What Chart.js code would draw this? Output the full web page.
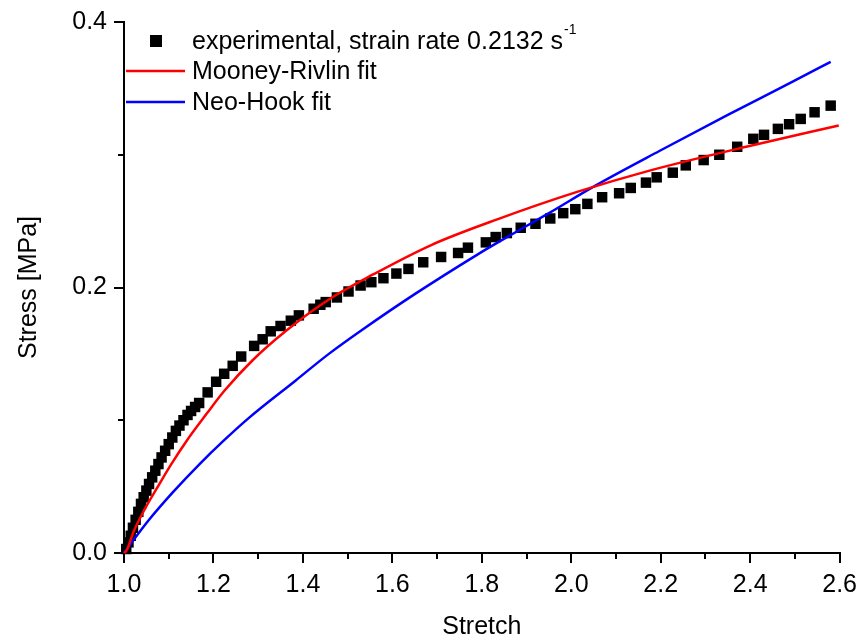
<!DOCTYPE html>
<html>
<head>
<meta charset="utf-8">
<script src="https://cdn.jsdelivr.net/npm/chart.js@4.4.1/dist/chart.umd.min.js"></script>
<style>
  html, body { margin: 0; padding: 0; background: #fff; }
  #wrap { width: 864px; height: 642px; }
</style>
</head>
<body>
<div id="wrap"><canvas id="stressChart" width="864" height="642"></canvas></div>
<script>
// Experimental stress-stretch points
const expStretch = [
  1.005, 1.010, 1.015, 1.020, 1.026, 1.032, 1.038, 1.044, 1.050, 1.056,
  1.063, 1.070, 1.077, 1.084, 1.092, 1.100, 1.108, 1.116, 1.124, 1.133,
  1.142, 1.150, 1.159, 1.168, 1.187, 1.206, 1.224, 1.243, 1.262, 1.291,
  1.310, 1.328, 1.350, 1.373, 1.391, 1.424, 1.439, 1.451, 1.476, 1.502,
  1.529, 1.553, 1.580, 1.609, 1.636, 1.669, 1.709, 1.747, 1.769, 1.809,
  1.831, 1.856, 1.887, 1.920, 1.953, 1.982, 2.009, 2.036, 2.069, 2.107,
  2.133, 2.167, 2.191, 2.227, 2.256, 2.296, 2.331, 2.371, 2.407, 2.431,
  2.462, 2.487, 2.513, 2.544, 2.580
];
const expStress = [
  0.003, 0.008, 0.013, 0.019, 0.025, 0.031, 0.037, 0.042, 0.047, 0.052,
  0.057, 0.062, 0.067, 0.072, 0.077, 0.082, 0.087, 0.092, 0.096, 0.100,
  0.104, 0.107, 0.110, 0.113, 0.121, 0.129, 0.135, 0.141, 0.148, 0.156,
  0.161, 0.167, 0.171, 0.175, 0.179, 0.184, 0.187, 0.189, 0.1925, 0.197,
  0.2015, 0.204, 0.207, 0.2105, 0.214, 0.219, 0.223, 0.226, 0.230, 0.234,
  0.238, 0.241, 0.245, 0.248, 0.252, 0.256, 0.259, 0.263, 0.268, 0.271,
  0.275, 0.279, 0.283, 0.2865, 0.292, 0.296, 0.300, 0.306, 0.312, 0.315,
  0.3195, 0.323, 0.327, 0.332, 0.337
];

// Mooney-Rivlin fit curve
const mrStretch = [1.000, 1.006, 1.022, 1.048, 1.074, 1.104, 1.141, 1.185, 1.224, 1.287,
  1.361, 1.458, 1.558, 1.687, 1.836, 2.013, 2.169, 2.391, 2.598];
const mrStress = [0.000, 0.002, 0.0165, 0.034, 0.049, 0.066, 0.085, 0.105, 0.122, 0.145,
  0.167, 0.191, 0.210, 0.232, 0.2515, 0.272, 0.2875, 0.306, 0.322];

// Neo-Hook fit curve
const nhStretch = [1.000, 1.013, 1.056, 1.110, 1.169, 1.224, 1.280, 1.384, 1.458, 1.532,
  1.650, 1.791, 1.836, 1.950, 2.050, 2.198, 2.350, 2.495, 2.580];
const nhStress = [0.000, 0.006, 0.025, 0.046, 0.067, 0.085, 0.102, 0.130, 0.150, 0.168,
  0.195, 0.225, 0.234, 0.256, 0.276, 0.303, 0.330, 0.355, 0.370];

const xMinorTicks = [1.1, 1.3, 1.5, 1.7, 1.9, 2.1, 2.3, 2.5];
const yMinorTicks = [0.1, 0.3];

const FONT = "'Liberation Sans', Arial, sans-serif";

function toPoints(xs, ys) {
  return xs.map((x, i) => ({ x: x, y: ys[i] }));
}

// Minor tick marks (Chart.js only draws one tick length)
const minorTicks = {
  id: 'minorTicks',
  afterDraw(chart) {
    const { ctx, chartArea, scales } = chart;
    ctx.save();
    ctx.strokeStyle = '#000';
    ctx.lineWidth = 2;
    ctx.beginPath();
    xMinorTicks.forEach(v => {
      const px = Math.round(scales.x.getPixelForValue(v));
      ctx.moveTo(px, chartArea.bottom);
      ctx.lineTo(px, chartArea.bottom + 6);
    });
    yMinorTicks.forEach(v => {
      const py = Math.round(scales.y.getPixelForValue(v));
      ctx.moveTo(chartArea.left - 6, py);
      ctx.lineTo(chartArea.left, py);
    });
    ctx.stroke();
    ctx.restore();
  }
};

// Legend drawn inside the plot, top-left
const insideLegend = {
  id: 'insideLegend',
  afterDraw(chart) {
    const ctx = chart.ctx;
    ctx.save();
    ctx.fillStyle = '#000';
    ctx.fillRect(150, 35, 12, 12);

    ctx.lineWidth = 2.5;
    ctx.strokeStyle = '#ff0000';
    ctx.beginPath(); ctx.moveTo(126, 71); ctx.lineTo(185, 71); ctx.stroke();
    ctx.strokeStyle = '#0000ff';
    ctx.beginPath(); ctx.moveTo(126, 102); ctx.lineTo(185, 102); ctx.stroke();

    ctx.font = '25px ' + FONT;
    ctx.textBaseline = 'middle';
    ctx.textAlign = 'left';
    const expLabel = 'experimental, strain rate 0.2132 s';
    ctx.fillText(expLabel, 192, 42);
    const w = ctx.measureText(expLabel).width;
    ctx.font = '14px ' + FONT;
    ctx.fillText('-1', 192 + w + 1, 30);
    ctx.font = '25px ' + FONT;
    ctx.fillText('Mooney-Rivlin fit', 192, 72);
    ctx.fillText('Neo-Hook fit', 192, 103);
    ctx.restore();
  }
};

new Chart(document.getElementById('stressChart').getContext('2d'), {
  type: 'scatter',
  data: {
    datasets: [
      {
        label: 'experimental, strain rate 0.2132 s-1',
        data: toPoints(expStretch, expStress),
        pointStyle: 'rect',
        pointRadius: 7.4,
        pointBackgroundColor: '#000',
        pointBorderWidth: 0,
        showLine: false,
        clip: false,
        order: 3
      },
      {
        label: 'Mooney-Rivlin fit',
        data: toPoints(mrStretch, mrStress),
        showLine: true,
        borderColor: '#ff0000',
        borderWidth: 2.5,
        pointRadius: 0,
        cubicInterpolationMode: 'monotone',
        clip: false,
        order: 1
      },
      {
        label: 'Neo-Hook fit',
        data: toPoints(nhStretch, nhStress),
        showLine: true,
        borderColor: '#0000ff',
        borderWidth: 2.5,
        pointRadius: 0,
        cubicInterpolationMode: 'monotone',
        clip: false,
        order: 2
      }
    ]
  },
  options: {
    responsive: false,
    animation: false,
    layout: { padding: { left: 0, top: 21, right: 20, bottom: 0 } },
    plugins: {
      legend: { display: false },
      tooltip: { enabled: false }
    },
    scales: {
      x: {
        type: 'linear',
        min: 1.0,
        max: 2.6,
        afterFit: (scale) => { scale.height = 89; },
        border: { display: true, color: '#000', width: 2 },
        grid: { display: true, drawOnChartArea: false, drawTicks: true, tickLength: 10, color: '#000', lineWidth: 2 },
        ticks: {
          stepSize: 0.2,
          padding: 7,
          color: '#000',
          font: { family: FONT, size: 25 },
          callback: (v) => v.toFixed(1)
        },
        title: {
          display: true,
          text: 'Stretch',
          color: '#000',
          font: { family: FONT, size: 25 },
          padding: { top: 0, bottom: 0 }
        }
      },
      y: {
        type: 'linear',
        min: 0,
        max: 0.4,
        afterFit: (scale) => { scale.width = 124; },
        border: { display: true, color: '#000', width: 2 },
        grid: { display: true, drawOnChartArea: false, drawTicks: true, tickLength: 10, color: '#000', lineWidth: 2 },
        ticks: {
          stepSize: 0.2,
          padding: 7,
          color: '#000',
          font: { family: FONT, size: 25 },
          callback: (v) => v.toFixed(1)
        },
        title: {
          display: true,
          text: 'Stress [MPa]',
          color: '#000',
          font: { family: FONT, size: 25 },
          padding: { top: 14, bottom: 0 }
        }
      }
    }
  },
  plugins: [minorTicks, insideLegend]
});
</script>
</body>
</html>
